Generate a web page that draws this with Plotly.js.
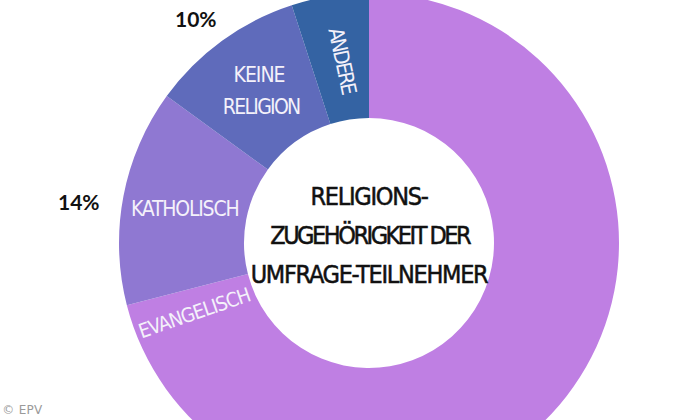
<!DOCTYPE html>
<html><head><meta charset="utf-8">
<script src="https://cdn.plot.ly/plotly-3.0.1.min.js"></script>
<style>html,body{margin:0;padding:0;width:700px;height:420px;overflow:hidden;background:#fff}
#c{position:absolute;left:0;top:-7px;width:738px;height:500px}</style>
</head><body><div id="c"></div>
<script>
const categories=["Evangelisch","Katholisch","Keine Religion","Andere"];
const shares=[71,14,10,5];
const sliceColors=["#BF7FE3","#8F78D2","#5F6BBB","#3463A3"];
const W=738,H=500,TOP=7;
const narrow="DejaVu Sans Condensed, sans-serif";
function note(text,px,py,size,color,family,angle){
  return {text:text,xref:"paper",yref:"paper",x:px/W,y:1-(py+TOP)/H,xanchor:"center",yanchor:"middle",showarrow:false,
    font:{size:size,color:color,family:family},textangle:angle||0};
}
const annotations=[
  note("RELIGIONS-",369,196,25,"#111",narrow),
  note("ZUGEHÖRIGKEIT DER",369,235,25,"#111",narrow),
  note("UMFRAGE-TEILNEHMER",369,274,25,"#111",narrow),
  note("KEINE",259,75,21,"#F4F1FA",narrow),
  note("RELIGION",261,107,21,"#F4F1FA",narrow),
  note("ANDERE",342,60,21,"#F4F1FA",narrow,78),
  note("KATHOLISCH",185,209,21,"#F4F1FA",narrow),
  note("EVANGELISCH",194,313,20,"#F4F1FA",narrow,-19),
  note("10%",196,18,21,"#111","Lato, sans-serif"),
  note("14%",79,202,21,"#111","Lato, sans-serif"),
  note("© EPV",23,410,12,"#9a9a9a","DejaVu Sans, sans-serif")
];
annotations[8].font.weight=700;annotations[9].font.weight=700;
const tracking=[-1.3,-2.5,-1.3,-1,-1.7,-2.1,-1.2,-0.9,0,0,0.3];
const strokes=[0.5,0.5,0.5,0,0,0,0,0,0,0,0];
Plotly.newPlot("c",[{type:"pie",labels:categories,values:shares,hole:0.5,sort:false,direction:"clockwise",rotation:0,
  marker:{colors:sliceColors,line:{width:0}},textinfo:"none",hoverinfo:"label+percent",domain:{x:[0,1],y:[0,1]}}],
  {width:W,height:H,margin:{l:0,r:0,t:0,b:0},paper_bgcolor:"#fff",showlegend:false,annotations:annotations},
  {displayModeBar:false,staticPlot:true}).then(function(){
    document.querySelectorAll("#c .annotation-text").forEach(function(t,i){
      t.style.letterSpacing=tracking[i]+"px";
      if(strokes[i]){t.style.stroke="#111";t.style.strokeWidth=strokes[i]+"px";}
    });
  });
</script></body></html>
